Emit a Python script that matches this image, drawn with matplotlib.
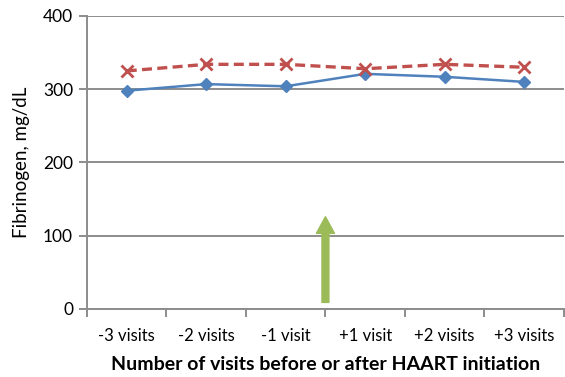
import matplotlib.pyplot as plt
import numpy as np
from matplotlib.patches import FancyArrowPatch, ArrowStyle

categories = ["-3 visits", "-2 visits", "-1 visit", "+1 visit", "+2 visits", "+3 visits"]
series_blue = [298, 307, 304, 321, 317, 310]
series_red = [325, 334, 334, 328, 334, 330]
y_ticks = [0, 100, 200, 300, 400]
arrow_from = 9
arrow_to = 126

plt.rcParams['font.family'] = ['Lato', 'DejaVu Sans']

fig = plt.figure(figsize=(5.65, 3.77), dpi=100)
ax = fig.add_axes([0.154, 0.1804, 0.844, 0.7772])

x = np.arange(len(categories))
ax.plot(x, series_blue, color="#4F81BD", lw=1.8, marker="D", ms=6.5, zorder=3)
ax.plot(x, series_red, color="#C0504D", lw=2.4, ls=(0, (3, 1.6)), marker="x", ms=9,
        mew=2, zorder=3)

# arrow marking HAART start, between -1 and +1 visit
arr = FancyArrowPatch((2.5, arrow_from), (2.5, arrow_to),
                      arrowstyle=ArrowStyle.Simple(head_length=12, head_width=13, tail_width=5),
                      mutation_scale=1, color="#9BBB59", shrinkA=0, shrinkB=0, zorder=4)
ax.add_patch(arr)

ax.set_xlim(-0.5, len(categories) - 0.5)
ax.set_ylim(0, 400)
ax.set_yticks(y_ticks)
ax.yaxis.grid(True, color="#8C8C8C", lw=1.4)
ax.set_axisbelow(True)

ax.set_xticks(x)
ax.set_xticklabels(categories, fontsize=12)
ax.set_xticks(np.arange(-0.5, len(categories)), minor=True)
ax.tick_params(axis="x", which="major", length=0, pad=14)
ax.tick_params(axis="x", which="minor", length=6, color="#8C8C8C", width=1.4)
ax.tick_params(axis="y", length=6, color="#8C8C8C", width=1.4, labelsize=12.5, pad=4)

for s in ["top", "right"]:
    ax.spines[s].set_visible(False)
for s in ["left", "bottom"]:
    ax.spines[s].set_color("#8C8C8C")
    ax.spines[s].set_linewidth(1.4)

ax.set_ylabel("Fibrinogen, mg/dL", fontsize=13.5, labelpad=9)
ax.set_xlabel("Number of visits before or after HAART initiation", fontsize=14,
              fontweight="bold", labelpad=8)

fig.savefig("out.png", dpi=100)
